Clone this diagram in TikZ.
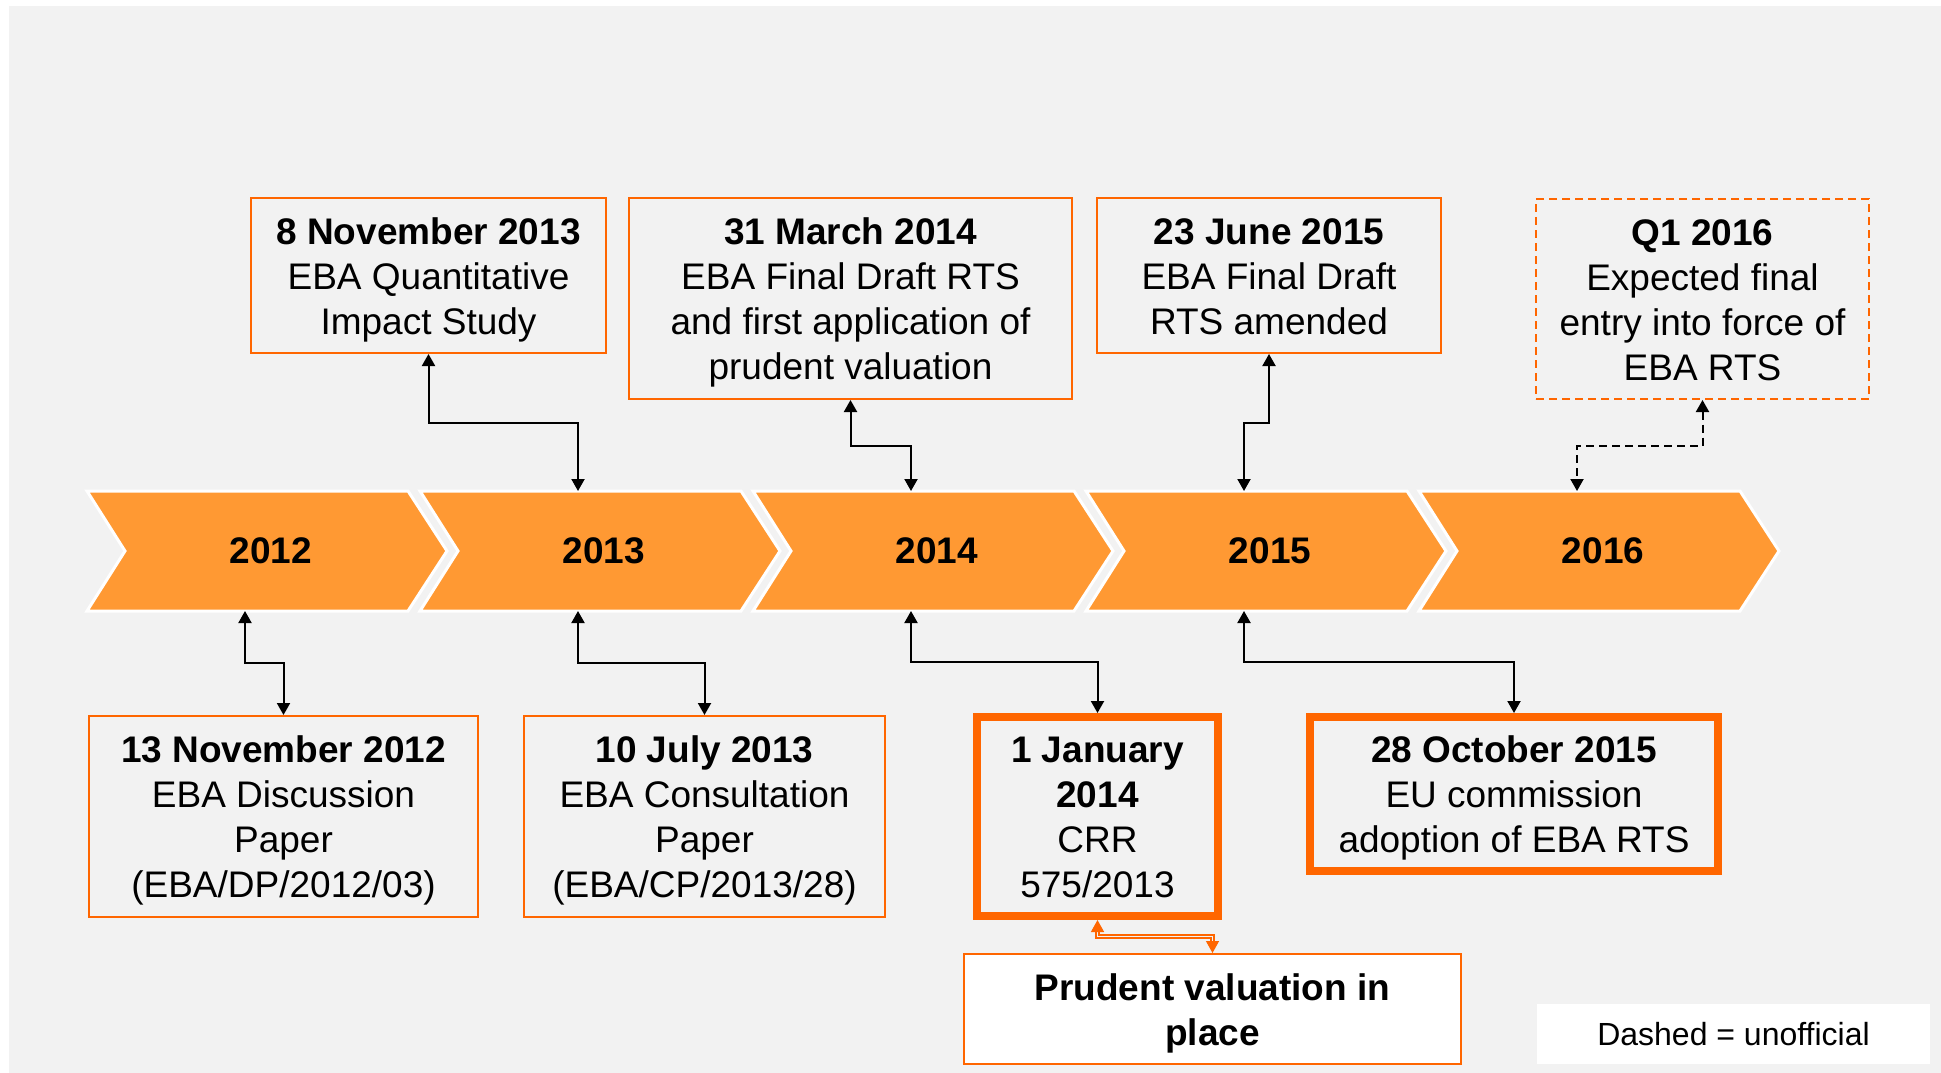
\documentclass[tikz,border=0pt]{standalone}
\usepackage{fontspec}
\setmainfont{Liberation Sans}
\usetikzlibrary{arrows.meta,calc}
\definecolor{bg}{HTML}{F2F2F2}
\definecolor{chev}{HTML}{FF9933}
\definecolor{orn}{HTML}{FF6600}
\newcommand\tst{\rule{0pt}{36pt}}
\newcommand\bst{\rule[-9pt]{0pt}{9pt}}
\begin{document}
\begin{tikzpicture}[x=1pt,y=-1pt,
  every node/.style={font=\fontsize{37}{45}\selectfont, align=center, inner sep=0pt, text=black},
  box/.style={draw=orn, line width=2pt, rectangle},
  thickbox/.style={draw=orn, line width=8pt, rectangle},
  dbox/.style={draw=orn, line width=2pt, rectangle, dash pattern=on 8pt off 5pt},
  conn/.style={draw=black, line width=2pt, {Triangle[width=13pt,length=12pt]}-{Triangle[width=13pt,length=12pt]}},
  pconn/.style={draw=orn, line width=1.3pt, double=bg, double distance=1.5pt, {Triangle[width=13pt,length=12pt]}-{Triangle[width=13pt,length=12pt]}},
  chevron/.style={fill=chev, draw=white, line width=3pt, line join=miter},
  year/.style={font=\bfseries\fontsize{37}{45}\selectfont}
]
\fill[white] (0,0) rectangle (1941,1073);
\fill[bg] (9,6) rectangle (1941,1073);
\useasboundingbox (0,0) rectangle (1941,1073);

% chevrons
\foreach \i/\yr in {0/2012,1/2013,2/2014,3/2015,4/2016} {
  \pgfmathsetmacro\L{87+333*\i}
  \path[chevron] (\L,491) -- ++(321,0) -- ++(39,60) -- ++(-39,60) -- ++(-321,0) -- ++(38,-60) -- cycle;
  \node[year] (y\yr) at (\L+184,551) {\yr};
  \coordinate (t\yr) at (\L+158,491);
  \coordinate (u\yr) at (\L+158,611);
}

% top boxes
\node[box, minimum width=355pt, minimum height=155pt] (b1) at (428.5,275.5)
  {\tst\textbf{8 November 2013}\\EBA Quantitative\\Impact Study\bst};
\node[box, minimum width=443pt, minimum height=201pt] (b2) at (850.5,298.5)
  {\tst\textbf{31 March 2014}\\EBA Final Draft RTS\\and first application of\\prudent valuation\bst};
\node[box, minimum width=344pt, minimum height=155pt] (b3) at (1269,275.5)
  {\tst\textbf{23 June 2015}\\EBA Final Draft\\RTS amended\bst};
\node[dbox, minimum width=333pt, minimum height=200pt] (b4) at (1702.5,299)
  {\tst\textbf{Q1 2016}\\Expected final\\entry into force of\\EBA RTS\bst};

% bottom boxes
\node[box, minimum width=389pt, minimum height=201pt] (b5) at (283.5,816.5)
  {\tst\textbf{13 November 2012}\\EBA Discussion\\Paper\\(EBA/DP/2012/03)\bst};
\node[box, minimum width=361pt, minimum height=201pt] (b6) at (704.5,816.5)
  {\tst\textbf{10 July 2013}\\EBA Consultation\\Paper\\(EBA/CP/2013/28)\bst};
\node[thickbox, minimum width=241pt, minimum height=199pt] (b7) at (1097.5,816.5)
  {\tst\textbf{1 January}\\\textbf{2014}\\CRR\\575/2013\bst};
\node[thickbox, minimum width=408pt, minimum height=154pt] (b8) at (1514,794)
  {\tst\textbf{28 October 2015}\\EU commission\\adoption of EBA RTS\bst};
\node[box, fill=white, minimum width=497pt, minimum height=110pt] (b9) at (1212.5,1009)
  {\tst\textbf{Prudent valuation in}\\\textbf{place}\bst};
\node[fill=white, minimum width=393pt, minimum height=60pt, font=\fontsize{32}{38}\selectfont] (leg) at (1733.5,1034)
  {Dashed = unofficial};

% connectors top
\draw[conn] (b1.south) |- ($(b1.south)!0.5!(t2013)$) -| (t2013);
\draw[conn] (b2.south) |- ($(b2.south)!0.5!(t2014)$) -| (t2014);
\draw[conn] (b3.south) |- ($(b3.south)!0.5!(t2015)$) -| (t2015);
\draw[conn, dash pattern=on 8pt off 5pt] (b4.south) |- ($(b4.south)!0.5!(t2016)$) -| (t2016);

% connectors bottom
\draw[conn] (u2012) |- ($(u2012)!0.5!(b5.north)$) -| (b5.north);
\draw[conn] (u2013) |- ($(u2013)!0.5!(b6.north)$) -| (b6.north);
\draw[conn] (u2014) |- ($(u2014)!0.5!(b7.north)$) -| (b7.north);
\draw[conn] (u2015) |- ($(u2015)!0.5!(b8.north)$) -| (b8.north);
\draw[pconn] (b7.south) |- ($(b7.south)!0.5!(b9.north)$) -| (b9.north);
\end{tikzpicture}
\end{document}
